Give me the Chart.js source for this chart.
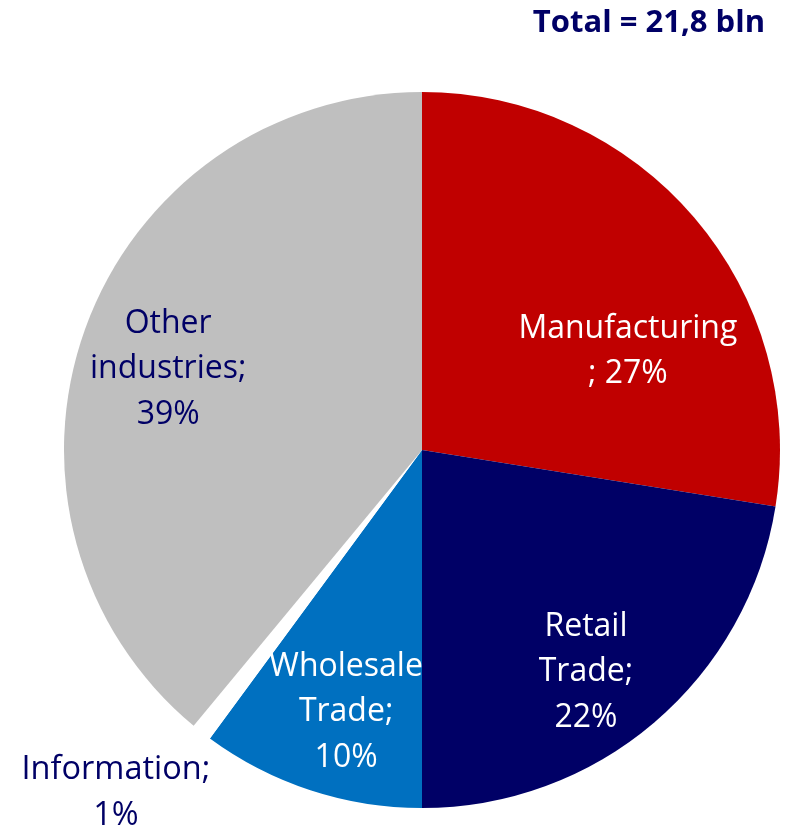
<!DOCTYPE html>
<html>
<head>
<meta charset="utf-8">
<script src="https://cdn.jsdelivr.net/npm/chart.js@4"></script>
<style>
  html, body { margin: 0; padding: 0; background: #ffffff; }
  #wrap { position: relative; width: 787px; height: 829px; }
</style>
</head>
<body>
<div id="wrap"><canvas id="c" width="787" height="829"></canvas></div>
<script>
// Data (bln)
const categories = ["Manufacturing", "Retail Trade", "Wholesale Trade", "Information", "Other industries"];
const values = [6.0, 4.9, 2.2, 0.2, 8.5];
const percentLabels = ["27%", "22%", "10%", "1%", "39%"];
const totalLabel = "Total = 21,8 bln";

// Label text lines (as shown in the picture)
const labelLines = [
  ["Manufacturing", "; 27%"],
  ["Retail", "Trade;", "22%"],
  ["Wholesale", "Trade;", "10%"],
  ["Information;", "1%"],
  ["Other", "industries;", "39%"]
];

// Styles
const sliceColors = ["#C00000", "#000066", "#0070C0", "#FFFFFF", "#BFBFBF"];
const textColors = ["#FFFFFF", "#FFFFFF", "#FFFFFF", "#000066", "#000066"];
// label anchor offsets relative to the arc centre, in units of outer radius
const labelOffsets = [
  [0.575, -0.276],
  [0.458, 0.620],
  [-0.212, 0.732],
  [-0.855, 0.958],
  [-0.709, -0.226]
];
const FONT = "'Open Sans', 'DejaVu Sans', sans-serif";
const LINE_H = 45.5;

const labelPlugin = {
  id: 'sliceLabels',
  afterDatasetsDraw(chart) {
    const ctx = chart.ctx;
    const meta = chart.getDatasetMeta(0);
    ctx.save();
    ctx.textAlign = "center";
    ctx.textBaseline = "middle";
    meta.data.forEach((arc, i) => {
      const r = arc.outerRadius;
      const cx = arc.x + labelOffsets[i][0] * r;
      const cy = arc.y + labelOffsets[i][1] * r;
      const lines = labelLines[i];
      const startY = cy - (lines.length - 1) * LINE_H / 2;
      ctx.font = (i === 3 ? "32.5px " : "32px ") + FONT;
      ctx.fillStyle = textColors[i];
      lines.forEach((t, k) => ctx.fillText(t, cx, startY + k * LINE_H));
    });
    // total title
    ctx.font = "bold 31px " + FONT;
    ctx.fillStyle = "#000066";
    ctx.textAlign = "right";
    ctx.fillText(totalLabel, 765, 23);
    ctx.restore();
  }
};

new Chart(document.getElementById('c'), {
  type: 'pie',
  data: {
    labels: categories,
    datasets: [{
      data: values,
      backgroundColor: sliceColors,
      borderWidth: 0
    }]
  },
  options: {
    responsive: false,
    animation: false,
    layout: { padding: { left: 64, right: 7, top: 92, bottom: 21 } },
    plugins: {
      legend: { display: false },
      tooltip: { enabled: false },
      title: { display: false }
    }
  },
  plugins: [labelPlugin]
});
</script>
</body>
</html>
